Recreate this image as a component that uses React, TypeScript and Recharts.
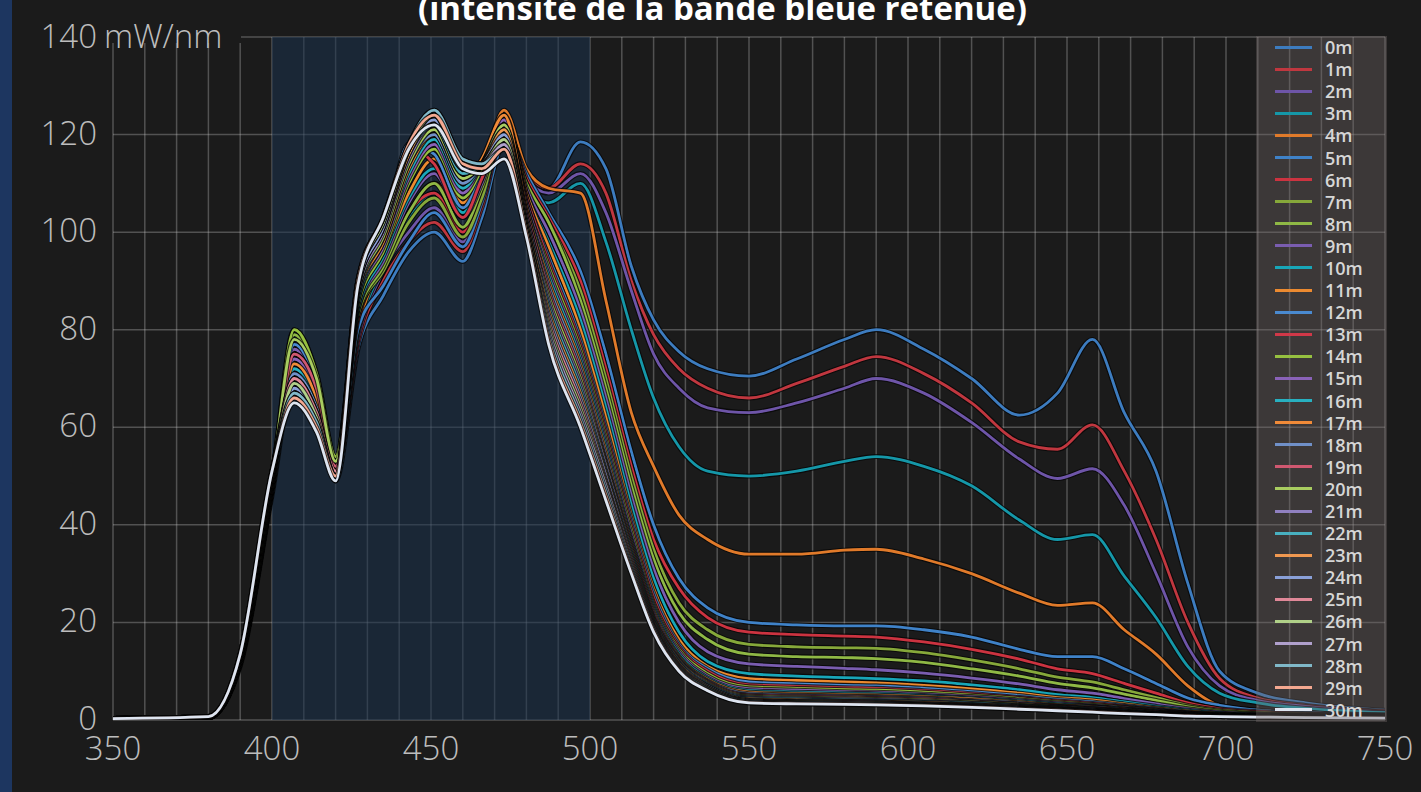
import React from 'react';
import { LineChart, Line, XAxis, YAxis, CartesianGrid, ReferenceArea, Legend } from 'recharts';

// wavelengths (nm) at which every spectrum was read
const wavelengths = [350, 380, 390, 400, 407, 414, 420, 427, 435, 443, 451, 460, 466, 473, 480, 487, 497, 505, 513, 520, 528, 537, 550, 565, 580, 590, 605, 620, 635, 647, 658, 668, 678, 688, 698, 710, 725, 750];

const depthNames = ['0m', '1m', '2m', '3m', '4m', '5m', '6m', '7m', '8m', '9m', '10m', '11m', '12m', '13m', '14m', '15m', '16m', '17m', '18m', '19m', '20m', '21m', '22m', '23m', '24m', '25m', '26m', '27m', '28m', '29m', '30m'];

const seriesColors = ['#3d7cbf', '#c0373f', '#6e55a8', '#1597a8', '#e07a2a', '#3f82c8', '#cc3340', '#86a83a', '#8fb845', '#7a5db0', '#18a6b8', '#ec8a30', '#4a8ad0', '#d03848', '#96c040', '#8a62b8', '#28b0c0', '#f08a38', '#7090c8', '#d05870', '#a8cc60', '#9080c0', '#48b0c0', '#f09850', '#8aa0d8', '#e08898', '#b0d088', '#b0a0cc', '#80b8c8', '#f4a890', '#dde4f0'];

const yTicks = [0, 20, 40, 60, 80, 100, 120, 140];

// mW/nm per depth
const d0 = [0.3, 0.5, 11, 46, 70, 63, 49, 76, 87, 96, 100, 94, 103, 118, 111, 109, 118.5, 113, 93, 82, 75.5, 72, 70.5, 74, 78, 80, 76, 70, 62.5, 67, 78, 63, 51, 28, 10, 5.5, 3.5, 2];
const d1 = [0.3, 0.5, 11.5, 47, 74, 66, 50, 77, 90, 98, 102, 96, 105, 120, 112, 109, 114, 108, 90, 79, 72, 68, 66, 69, 72.5, 74.5, 71, 65, 57, 55.5, 60.5, 51, 37, 20, 8.5, 4.5, 3, 1.8];
const d2 = [0.3, 0.5, 11.5, 47, 72, 65, 51, 78, 92, 100, 105, 98, 107, 121, 111, 108, 112, 104, 88, 75, 68, 64, 63, 65, 68, 70, 67, 61, 53.5, 49.5, 51.5, 44, 30, 15, 7, 4, 2.8, 1.6];
const d3 = [0.3, 0.5, 11.5, 47, 73, 66, 51, 79, 93, 103, 108, 100, 108, 122, 110, 106, 110, 98, 80, 66, 56, 51, 50, 51, 53, 54, 52, 48, 41, 37, 38, 29.5, 21, 11, 5.5, 3.5, 2.4, 1.5];
const d4 = [0.3, 0.5, 12, 48, 75, 67, 52, 80, 94, 104, 110, 104, 112, 125, 113, 109, 108, 86, 63, 52, 42, 37, 34, 34, 34.8, 35, 33, 30, 26, 23.5, 24, 18.5, 13.5, 7, 3, 2, 1.5, 1];
const d5 = [0.3, 0.5, 11.5, 47, 71, 64, 50, 80, 89, 98, 104, 97, 106, 121, 112, 104, 92, 75, 55, 40, 29, 23, 20, 19.5, 19.3, 19.3, 18.5, 17, 14.5, 13, 13, 10.5, 7.5, 4.5, 3, 2, 1.5, 1];
const d6 = [0.3, 0.5, 12, 48, 76, 68, 52, 82, 93, 104, 108, 100, 108, 122, 111, 103, 90, 72, 52, 37, 27, 21, 18, 17.5, 17.2, 17, 16, 14.5, 12.5, 10.5, 9.5, 7.5, 5.5, 3.5, 2.3, 1.7, 1.3, 0.9];
const d7 = [0.3, 0.5, 12, 48, 80, 71, 54, 83, 92, 102, 107, 99, 107, 121, 110, 102, 88, 70, 50, 35, 24, 18.5, 15.5, 15, 14.8, 14.7, 13.8, 12.3, 10.5, 8.8, 7.8, 6.2, 4.6, 3, 2, 1.5, 1.2, 0.9];
const d8 = [0.3, 0.5, 12, 48, 79, 70, 53, 83, 93, 104, 110, 101, 109, 122, 110, 102, 86, 68, 48, 33, 22, 16.5, 13.5, 13, 12.8, 12.6, 11.8, 10.5, 9, 7.5, 6.6, 5.3, 4, 2.7, 1.8, 1.3, 1.1, 0.8];
const d9 = [0.3, 0.5, 12, 48, 76, 68, 52, 84, 94, 106, 112, 103, 110, 123, 109, 100, 84, 66, 46, 31, 20, 14, 11.5, 11, 10.6, 10.3, 9.6, 8.6, 7.4, 6.2, 5.5, 4.4, 3.3, 2.3, 1.6, 1.2, 1, 0.8];
const d10 = [0.3, 0.5, 12, 48, 74, 66, 51, 84, 95, 107, 113, 104, 111, 123, 108, 98, 82, 64, 44, 29, 18, 12, 9.5, 9, 8.7, 8.5, 8, 7.2, 6.2, 5.2, 4.6, 3.7, 2.8, 2, 1.4, 1.1, 0.9, 0.7];
const d11 = [0.3, 0.5, 12, 48, 75, 67, 52, 85, 96, 108, 115, 106, 112, 124, 108, 97, 80, 62, 42, 27, 16.5, 11, 8.5, 8.1, 7.8, 7.6, 7.1, 6.4, 5.5, 4.6, 4.1, 3.3, 2.5, 1.8, 1.3, 1, 0.9, 0.7];
const d12 = [0.3, 0.6, 12.5, 49, 77, 69, 53, 88, 99, 118, 116, 105, 112, 123, 107, 95, 78, 60, 41, 26, 15.5, 10.5, 7.8, 7.4, 7.1, 7, 6.5, 5.8, 5, 4.2, 3.7, 3, 2.3, 1.6, 1.2, 1, 0.8, 0.7];
const d13 = [0.3, 0.6, 12.5, 49, 75, 68, 52, 87, 98, 117, 114, 103, 111, 122, 107, 94, 77, 59, 40, 25, 15, 10, 7.2, 6.9, 6.6, 6.5, 6, 5.4, 4.6, 3.9, 3.4, 2.8, 2.1, 1.5, 1.1, 0.9, 0.8, 0.6];
const d14 = [0.3, 0.6, 12.5, 49, 80, 71, 54, 85, 96, 110, 117, 107, 113, 123, 106, 93, 76, 58, 39, 24, 14.5, 9.5, 6.8, 6.5, 6.2, 6.1, 5.7, 5.1, 4.4, 3.7, 3.2, 2.6, 2, 1.4, 1.1, 0.9, 0.8, 0.6];
const d15 = [0.3, 0.6, 12.5, 49, 74, 67, 52, 86, 97, 111, 118, 108, 114, 123, 106, 92, 75, 57, 38, 23.5, 14, 9, 6.4, 6.1, 5.8, 5.7, 5.3, 4.8, 4.1, 3.5, 3, 2.5, 1.9, 1.4, 1, 0.9, 0.7, 0.6];
const d16 = [0.3, 0.6, 12.5, 49, 72, 65, 51, 86, 98, 112, 119, 109, 114, 122, 105, 91, 74, 56, 37, 23, 13.5, 8.6, 6, 5.7, 5.5, 5.4, 5, 4.5, 3.9, 3.3, 2.8, 2.3, 1.8, 1.3, 1, 0.8, 0.7, 0.6];
const d17 = [0.3, 0.6, 12.5, 49, 73, 66, 51, 87, 98, 113, 120, 110, 115, 124, 105, 90, 73, 55, 36.5, 22.5, 13, 8.3, 5.7, 5.4, 5.2, 5.1, 4.8, 4.3, 3.7, 3.1, 2.7, 2.2, 1.7, 1.3, 1, 0.8, 0.7, 0.6];
const d18 = [0.3, 0.6, 13, 50, 71, 64, 50, 87, 99, 114, 120, 110, 114, 122, 104, 89, 72, 54, 36, 22, 12.7, 8, 5.4, 5.1, 4.9, 4.8, 4.5, 4, 3.5, 2.9, 2.6, 2.1, 1.6, 1.2, 0.9, 0.8, 0.7, 0.5];
const d19 = [0.3, 0.6, 13, 50, 75, 68, 52, 88, 100, 115, 121, 111, 114, 121, 104, 88, 71, 53, 35.5, 21.5, 12.4, 7.8, 5.1, 4.9, 4.7, 4.6, 4.3, 3.8, 3.3, 2.8, 2.4, 2, 1.6, 1.2, 0.9, 0.8, 0.7, 0.5];
const d20 = [0.3, 0.6, 13, 50, 78, 70, 53, 88, 99, 114, 121, 111, 114, 122, 103, 87, 70, 52.5, 35, 21, 12.2, 7.6, 4.9, 4.7, 4.5, 4.4, 4.1, 3.7, 3.2, 2.7, 2.3, 1.9, 1.5, 1.1, 0.9, 0.7, 0.6, 0.5];
const d21 = [0.3, 0.6, 13, 50, 70, 63, 50, 88, 100, 115, 122, 112, 114, 121, 103, 86, 69, 52, 34.5, 20.7, 12, 7.4, 4.7, 4.5, 4.3, 4.2, 3.9, 3.5, 3, 2.6, 2.2, 1.8, 1.4, 1.1, 0.9, 0.7, 0.6, 0.5];
const d22 = [0.3, 0.6, 13, 50, 69, 62, 50, 89, 101, 116, 122, 112, 114, 120, 102, 85, 68, 51, 34, 20.4, 11.7, 7.2, 4.5, 4.3, 4.1, 4, 3.7, 3.4, 2.9, 2.5, 2.1, 1.8, 1.4, 1.1, 0.8, 0.7, 0.6, 0.5];
const d23 = [0.3, 0.6, 13, 50, 70, 63, 50, 89, 101, 116, 123, 113, 114, 121, 102, 84, 67, 50.5, 33.5, 20.1, 11.5, 7, 4.3, 4.1, 3.9, 3.8, 3.6, 3.2, 2.8, 2.4, 2, 1.7, 1.3, 1, 0.8, 0.7, 0.6, 0.5];
const d24 = [0.3, 0.6, 13, 50, 68, 62, 50, 89, 101, 117, 123, 113, 114, 120, 101, 83, 66, 50, 33, 19.8, 11.2, 6.9, 4.1, 3.9, 3.8, 3.7, 3.4, 3.1, 2.7, 2.3, 2, 1.6, 1.3, 1, 0.8, 0.7, 0.6, 0.5];
const d25 = [0.3, 0.7, 13.5, 51, 70, 63, 51, 90, 102, 117, 124, 114, 114, 119, 101, 82, 65, 49, 32.5, 19.5, 11, 6.7, 4, 3.8, 3.7, 3.6, 3.3, 3, 2.6, 2.2, 1.9, 1.6, 1.2, 1, 0.8, 0.7, 0.6, 0.4];
const d26 = [0.3, 0.7, 13.5, 51, 69, 62, 50, 90, 102, 117, 124, 114, 114, 119, 101, 81, 64, 48.5, 32, 19.2, 10.8, 6.6, 3.9, 3.7, 3.6, 3.5, 3.2, 2.9, 2.5, 2.1, 1.8, 1.5, 1.2, 0.9, 0.8, 0.6, 0.5, 0.4];
const d27 = [0.3, 0.7, 13.5, 51, 67, 61, 50, 90, 103, 118, 125, 115, 114, 118, 100, 80, 63, 48, 31.5, 19, 10.6, 6.4, 3.8, 3.6, 3.5, 3.4, 3.1, 2.8, 2.4, 2.1, 1.8, 1.5, 1.2, 0.9, 0.7, 0.6, 0.5, 0.4];
const d28 = [0.3, 0.7, 13.5, 51, 67, 61, 50, 90, 103, 118, 125, 115, 114, 117, 100, 79, 62, 47, 31, 18.7, 10.4, 6.3, 3.7, 3.5, 3.4, 3.3, 3.1, 2.7, 2.4, 2, 1.7, 1.4, 1.1, 0.9, 0.7, 0.6, 0.5, 0.4];
const d29 = [0.3, 0.7, 13.5, 51, 66, 60, 50, 90, 103, 118, 124, 114, 113, 117, 100, 78, 61, 46, 30.5, 18.4, 10.2, 6.1, 3.6, 3.4, 3.3, 3.2, 3, 2.7, 2.3, 2, 1.7, 1.4, 1.1, 0.9, 0.7, 0.6, 0.5, 0.4];
const d30 = [0.3, 0.7, 13.5, 51, 65, 59, 49, 89, 103, 117, 122, 113, 112, 115, 99, 77, 60, 45, 30, 18, 10, 6, 3.5, 3.3, 3.2, 3.1, 2.9, 2.6, 2.2, 1.9, 1.6, 1.3, 1.1, 0.8, 0.7, 0.6, 0.5, 0.4];

const seriesValues = [d0, d1, d2, d3, d4, d5, d6, d7, d8, d9, d10, d11, d12, d13, d14, d15, d16, d17, d18, d19, d20, d21, d22, d23, d24, d25, d26, d27, d28, d29, d30];

const data = wavelengths.map((wl, i) => {
  const row: Record<string, number> = { wl };
  depthNames.forEach((name, k) => { row[name] = seriesValues[k][i]; });
  return row;
});

// vertical grid every 10 nm
const gridTicks = Array.from({ length: 41 }, (_, i) => 350 + i * 10);

const BG = '#1b1b1b';
const LABEL = '#bdbdbd';
const FONT = '"Open Sans", "Noto Sans", sans-serif';

const XTick = (props: any) => {
  const { x, payload } = props;
  if (payload.value % 50 !== 0) return <g />;
  return (
    <text x={x} y={760} textAnchor="middle" fill={LABEL} fontSize={33} fontFamily={FONT} fontWeight={300}>
      {payload.value}
    </text>
  );
};

const YTick = (props: any) => {
  const { y, payload } = props;
  if (payload.value === 140) {
    return (
      <g>
        <rect x={98} y={y - 6} width={143} height={12} fill={BG} />
        <text x={97} y={y + 11} textAnchor="end" fill={LABEL} fontSize={33} fontFamily={FONT} fontWeight={300}>140</text>
        <text x={104} y={y + 11} textAnchor="start" fill={LABEL} fontSize={33} fontFamily={FONT} fontWeight={300}>mW/nm</text>
      </g>
    );
  }
  return (
    <text x={97} y={y + 10} textAnchor="end" fill={LABEL} fontSize={33} fontFamily={FONT} fontWeight={300}>
      {payload.value}
    </text>
  );
};

const LegendBox = () => (
  <div style={{ width: 131, height: 686, background: 'rgba(115,105,105,0.38)', boxSizing: 'border-box' }}>
    {depthNames.map((name, k) => (
      <div key={name} style={{ height: 22.1, display: 'flex', alignItems: 'center', overflow: 'visible' }}>
        <span style={{ display: 'inline-block', width: 37, height: 3, marginLeft: 19, background: seriesColors[k] }} />
        <span style={{ marginLeft: 13, color: '#d6d6d6', fontFamily: FONT, fontSize: 18, fontWeight: 600, lineHeight: '18px' }}>{name}</span>
      </div>
    ))}
  </div>
);

export default function App() {
  return (
    <div style={{ position: 'absolute', left: 0, top: 0, width: 1421, height: 792, background: BG, overflow: 'hidden' }}>
      <div style={{ position: 'absolute', left: 0, top: 0, width: 12, height: 792, background: '#1d3660' }} />
      <div style={{ position: 'absolute', left: 12, top: -9, width: 1421, textAlign: 'center', color: '#ffffff', fontFamily: FONT, fontWeight: 700, fontSize: 33, lineHeight: '33px', whiteSpace: 'nowrap' }}>
        (intensité de la bande bleue retenue)
      </div>
      <div style={{ position: 'absolute', left: 0, top: 0 }}>
        <LineChart width={1421} height={792} data={data} margin={{ top: 37, right: 36, bottom: 32, left: 0 }}>
          <ReferenceArea x1={400} x2={500} y1={0} y2={140} fill="#19324d" fillOpacity={0.55} stroke="none" ifOverflow="hidden" />
          <CartesianGrid stroke="rgba(200,200,200,0.32)" strokeWidth={1.5} />
          <XAxis type="number" dataKey="wl" domain={[350, 750]} ticks={gridTicks} interval={0} tick={<XTick />} tickLine={false} axisLine={false} height={40} allowDataOverflow />
          <YAxis type="number" domain={[0, 140]} ticks={yTicks} interval={0} tick={<YTick />} tickLine={false} axisLine={false} width={113} allowDataOverflow />
          {depthNames.flatMap((name, k) => [
            <Line key={`o-${name}`} type="monotone" dataKey={name} stroke="#050505" strokeOpacity={0.75} strokeWidth={5} dot={false} activeDot={false} legendType="none" isAnimationActive={false} />,
            <Line key={`c-${name}`} type="monotone" dataKey={name} stroke={seriesColors[k]} strokeWidth={2.8} dot={false} activeDot={false} isAnimationActive={false} />,
          ])}
          <Legend layout="horizontal" align="center" verticalAlign="middle" content={<LegendBox />} wrapperStyle={{ left: 1256, top: 36, width: 131, height: 686 }} />
        </LineChart>
      </div>
    </div>
  );
}
